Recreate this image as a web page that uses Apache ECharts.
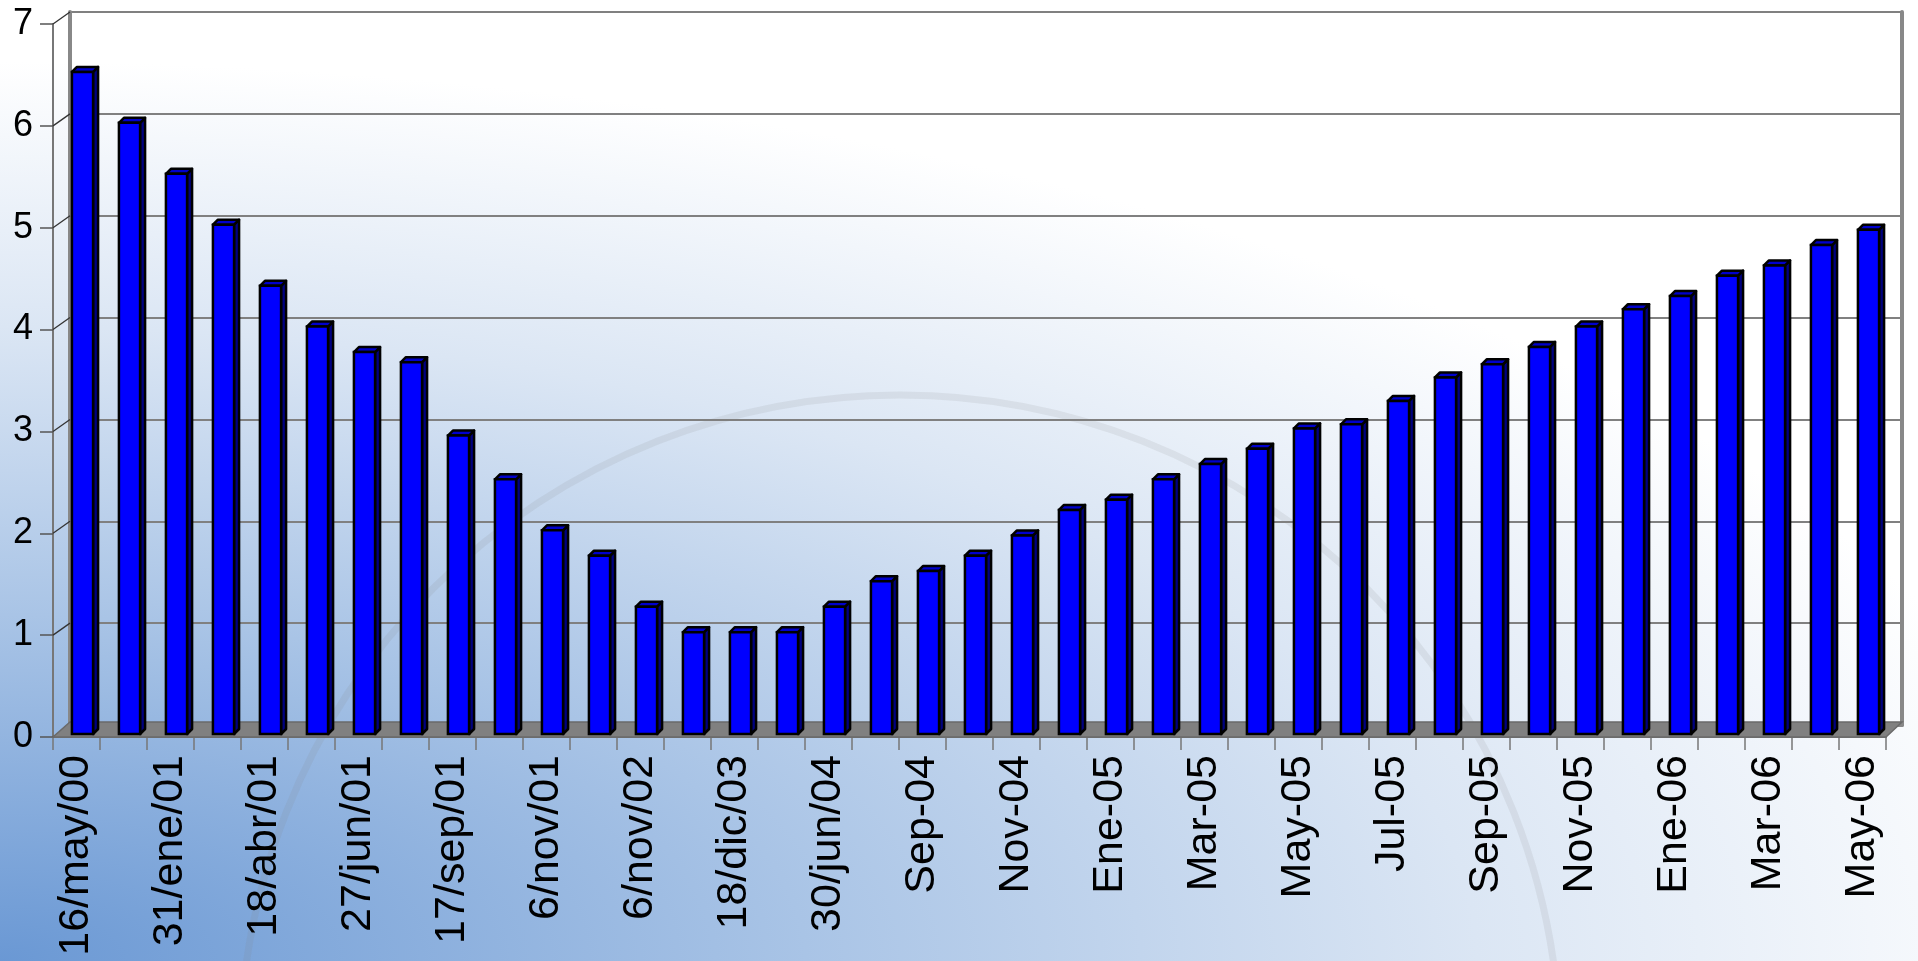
<!DOCTYPE html>
<html><head><meta charset="utf-8">
<script src="https://cdn.jsdelivr.net/npm/echarts@6/dist/echarts.min.js"></script>
<style>
html,body{margin:0;padding:0;}
#c{width:1918px;height:961px;background:radial-gradient(140% 120% at 0% 100%, #6a98d4 0%, #a9c4e6 30%, #dbe6f4 55%, #ffffff 78%);}
</style></head><body><div id="c"></div>
<script>
const dates = ['16/may/00','', '31/ene/01','', '18/abr/01','', '27/jun/01','', '17/sep/01','',
  '6/nov/01','', '6/nov/02','', '18/dic/03','', '30/jun/04','', 'Sep-04','',
  'Nov-04','', 'Ene-05','', 'Mar-05','', 'May-05','', 'Jul-05','',
  'Sep-05','', 'Nov-05','', 'Ene-06','', 'Mar-06','', 'May-06'];
const rates = [6.5, 6.0, 5.5, 5.0, 4.4, 4.0, 3.75, 3.65, 2.93, 2.5,
  2.0, 1.75, 1.25, 1.0, 1.0, 1.0, 1.25, 1.5, 1.6, 1.75,
  1.95, 2.2, 2.3, 2.5, 2.65, 2.8, 3.0, 3.04, 3.27, 3.5,
  3.63, 3.8, 4.0, 4.17, 4.3, 4.5, 4.6, 4.8, 4.95];
const yTicks = [0, 1, 2, 3, 4, 5, 6, 7];

const WALL_DX = 17, WALL_DY = 12, FLOOR_DY = 15;
const BAR_SHIFT_X = 6, BAR_SHIFT_Y = 3, BAR_DX = 5, BAR_DY = 5, BAR_FRAC = 0.45;
const font = '"Liberation Sans", Arial, sans-serif';

const chart = echarts.init(document.getElementById('c'), null, {renderer: 'canvas'});
const option = {
  animation: false,
  backgroundColor: 'transparent',
  graphic: [{
    type: 'circle', silent: true, z: -10,
    shape: {cx: 900, cy: 1055, r: 660},
    style: {fill: 'transparent', stroke: 'rgba(130,130,130,0.13)', lineWidth: 7}
  }],
  grid: [
    {left: 53, top: 24, width: 1833, height: 713},
    {left: 70, top: 12, width: 1832, height: 713}
  ],
  xAxis: [
    {type: 'category', gridIndex: 0, data: dates, boundaryGap: true,
     axisLine: {show: true, lineStyle: {color: '#777', width: 2}},
     axisTick: {show: true, interval: 0, length: 13, lineStyle: {color: '#777', width: 1.5}},
     axisLabel: {interval: 0, rotate: 90, fontSize: 43, color: '#000', fontFamily: font, margin: 18},
     splitLine: {show: false}},
    {type: 'category', gridIndex: 1, data: dates, position: 'top',
     axisLine: {show: true, lineStyle: {color: '#888', width: 4}},
     axisTick: {show: false}, axisLabel: {show: false}, splitLine: {show: false}}
  ],
  yAxis: [
    {type: 'value', gridIndex: 0, min: 0, max: 7, interval: 1,
     axisLine: {show: true, lineStyle: {color: '#777', width: 2}},
     axisTick: {show: true, length: 13, lineStyle: {color: '#555', width: 1.5}},
     axisLabel: {fontSize: 36, color: '#000', fontFamily: font, margin: 20},
     splitLine: {show: false}},
    {type: 'value', gridIndex: 1, min: 0, max: 7, interval: 1, position: 'left',
     axisLine: {show: true, lineStyle: {color: '#888', width: 4}},
     axisTick: {show: false}, axisLabel: {show: false},
     splitLine: {show: true, lineStyle: {color: '#808080', width: 2}}},
    {type: 'value', gridIndex: 1, min: 0, max: 7, interval: 1, position: 'right',
     axisLine: {show: true, lineStyle: {color: '#888', width: 4}},
     axisTick: {show: false}, axisLabel: {show: false}, splitLine: {show: false}}
  ],
  series: [
    { // side wall gridlines
      type: 'custom', xAxisIndex: 0, yAxisIndex: 0, z: 3, silent: true,
      data: yTicks.map(v => [0, v]),
      renderItem: function (params, api) {
        const cs = params.coordSys;
        const y = api.coord([0, api.value(1)])[1];
        return {type: 'line', shape: {x1: cs.x, y1: y, x2: cs.x + WALL_DX, y2: y - WALL_DY},
                style: {stroke: '#333', lineWidth: 1.3}};
      }
    },
    { // floor
      type: 'custom', xAxisIndex: 0, yAxisIndex: 0, z: 4, silent: true,
      data: [[0, 0]],
      renderItem: function (params, api) {
        const cs = params.coordSys;
        const b = cs.y + cs.height, r = cs.x + cs.width;
        return {type: 'polygon',
          shape: {points: [[cs.x, b], [r, b], [r + WALL_DX - 1, b - FLOOR_DY], [cs.x + WALL_DX, b - FLOOR_DY]]},
          style: {fill: '#808080', stroke: '#6a6a6a', lineWidth: 1.5}};
      }
    },
    { // 3D bars
      type: 'custom', xAxisIndex: 0, yAxisIndex: 0, z: 5,
      data: rates.map((v, i) => [i, v]),
      renderItem: function (params, api) {
        const i = api.value(0), v = api.value(1);
        const top = api.coord([i, v]);
        const bot = api.coord([i, 0]);
        const cw = api.size([1, 0])[0];
        const bw = cw * BAR_FRAC;
        const cx = top[0] + BAR_SHIFT_X;
        const l = cx - bw / 2, r = cx + bw / 2;
        const t = top[1] - BAR_SHIFT_Y, b = bot[1] - BAR_SHIFT_Y;
        return {type: 'group', children: [
          {type: 'polygon', shape: {points: [[r, t], [r + BAR_DX, t - BAR_DY], [r + BAR_DX, b - BAR_DY], [r, b]]},
           style: {fill: '#000080', stroke: '#000', lineWidth: 2.5, lineJoin: 'round'}},
          {type: 'polygon', shape: {points: [[l, t], [l + BAR_DX, t - BAR_DY], [r + BAR_DX, t - BAR_DY], [r, t]]},
           style: {fill: '#0000cc', stroke: '#000', lineWidth: 2.5, lineJoin: 'round'}},
          {type: 'rect', shape: {x: l, y: t, width: bw, height: b - t},
           style: {fill: '#0000ff', stroke: '#000', lineWidth: 2.5}}
        ]};
      }
    }
  ]
};
chart.setOption(option);
</script></body></html>
